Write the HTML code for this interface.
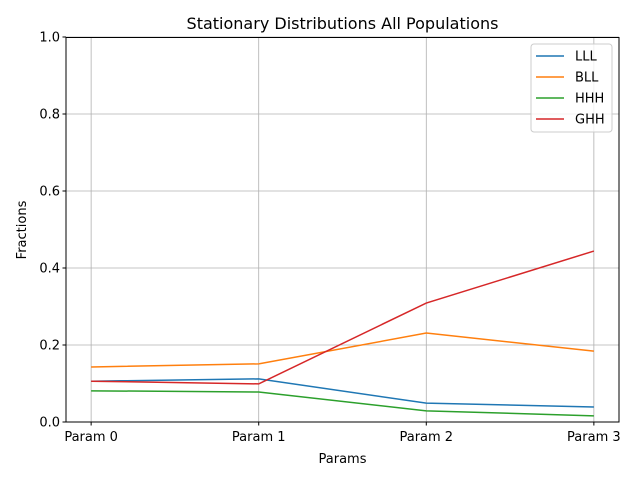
<!DOCTYPE html>
<html><head><meta charset="utf-8"><style>
body{margin:0;background:#fff;font-family:"Liberation Sans","DejaVu Sans",sans-serif;}
svg text{font-family:"DejaVu Sans","Liberation Sans",sans-serif;}
</style></head><body>
<svg id="chart" width="640" height="480" xmlns="http://www.w3.org/2000/svg">
<rect width="640" height="480" fill="#fff"/>
<g id="grid"></g>
<g id="lines"></g>
<rect x="66" y="37.5" width="553" height="384.5" fill="none" stroke="#000" stroke-width="1"/>
<g id="ticks"></g>
<text x="342.5" y="29" font-size="16" text-anchor="middle">Stationary Distributions All Populations</text>
<text x="342.5" y="463" font-size="13" text-anchor="middle">Params</text>
<text x="26" y="230" font-size="13" text-anchor="middle" transform="rotate(-90 26 230)">Fractions</text>
<g id="legend"></g>
</svg>
<script>
const categories = ["Param 0","Param 1","Param 2","Param 3"];
const seriesNames = ["LLL","BLL","HHH","GHH"];
const lllValues = [0.106,0.112,0.049,0.039];
const bllValues = [0.143,0.151,0.231,0.184];
const hhhValues = [0.081,0.078,0.029,0.016];
const ghhValues = [0.106,0.099,0.309,0.444];
const yTicks = [0,0.2,0.4,0.6,0.8,1.0];
const yTickLabels = ["0.0","0.2","0.4","0.6","0.8","1.0"];
const colors = ["#1f77b4","#ff7f0e","#2ca02c","#d62728"];
const NS="http://www.w3.org/2000/svg";
const X0=66,X1=619,Y0=422,Y1=37;
const xs=i=>X0+(i+0.15)/3.3*(X1-X0);
const ys=v=>Y0-v*(Y0-Y1);
function mk(t,a,p){const e=document.createElementNS(NS,t);for(const k in a)e.setAttribute(k,a[k]);p.appendChild(e);return e;}
const grid=document.getElementById('grid'),ticks=document.getElementById('ticks');
categories.forEach((c,i)=>{
  const x=xs(i);
  const g=mk('line',{x1:x,x2:x,y1:Y1,y2:Y0,stroke:'#b0b0b0','stroke-width':0.8},grid);
  
  
  mk('line',{x1:x,x2:x,y1:Y0,y2:Y0+3.5,stroke:'#000'},ticks);
  const t=mk('text',{x:x,y:441,'font-size':13,'text-anchor':'middle'},ticks);
  t.textContent=c;
  
  
});
yTicks.forEach((v,i)=>{
  const y=ys(v);
  const g=mk('line',{x1:X0,x2:X1,y1:y,y2:y,stroke:'#b0b0b0','stroke-width':0.8},grid);
  
  
  mk('line',{x1:X0-3.5,x2:X0,y1:y,y2:y,stroke:'#000'},ticks);
  const t=mk('text',{x:X0-6,y:y+4.5,'font-size':13,'text-anchor':'end'},ticks);
  t.textContent=yTickLabels[i];
  
  
});
const all=[lllValues,bllValues,hhhValues,ghhValues];
const lines=document.getElementById('lines');
all.forEach((vals,s)=>{
  const p=mk('polyline',{points:vals.map((v,i)=>xs(i)+','+ys(v)).join(' '),fill:'none',stroke:colors[s],'stroke-width':1.5},lines);
  
  
});
const lg=document.getElementById('legend');
mk('rect',{x:531,y:44,width:81,height:88,rx:3,fill:'#fff','fill-opacity':0.8,stroke:'#ccc'},lg);
seriesNames.forEach((n,i)=>{
  const y=56+i*21;
  const g=mk('g',{},lg);
  
  
  mk('line',{x1:536,x2:564,y1:y,y2:y,stroke:colors[i],'stroke-width':1.5},g);
  const t=mk('text',{x:575,y:y+4.5,'font-size':13},g);
  t.textContent=n;
});
</script>
</body></html>
